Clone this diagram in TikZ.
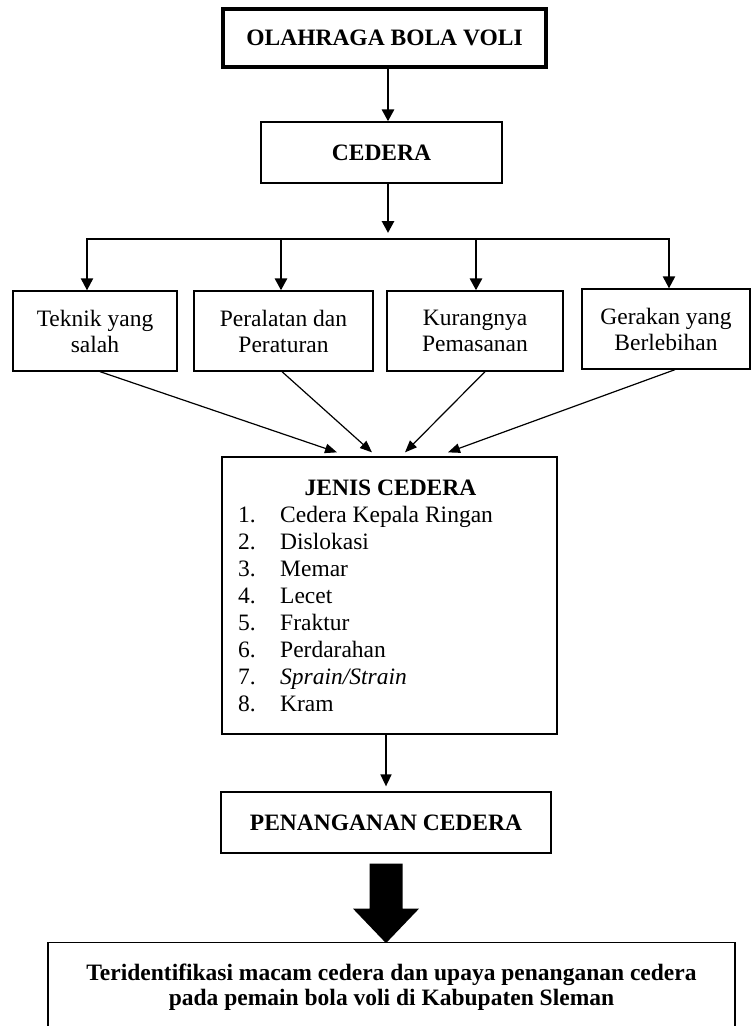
\documentclass[tikz,border=0pt]{standalone}
\usepackage{fontspec}
\setmainfont{Liberation Serif}
\usetikzlibrary{arrows.meta,calc}
\begin{document}
\begin{tikzpicture}[x=1pt,y=-1pt,
  box/.style={draw, line width=1.3pt, inner sep=0pt, align=center, font=\fontsize{23.5}{26}\selectfont},
  thickbox/.style={box, line width=4pt},
  heavyarrow/.style={line width=2.8pt, -{Triangle[length=12pt,width=12pt]}},
  lightarrow/.style={line width=1.2pt, -{Triangle[length=12pt,width=9.5pt]}},
  txt/.style={inner sep=0pt, font=\fontsize{23.5}{27}\selectfont},
]
\useasboundingbox (0,0) rectangle (751,1026);
\clip (0,0) rectangle (751,1026);

% boxes
\node[thickbox, minimum width=323pt, minimum height=58pt] (top) at (384.5,38) {\textbf{OLAHRAGA BOLA VOLI}};
\node[box, minimum width=241pt, minimum height=61pt] (ced) at (381.5,152.5) {\textbf{CEDERA}};
\node[box, minimum width=164pt, minimum height=80pt] (b1) at (95,331) {Teknik yang\\salah};
\node[box, minimum width=179pt, minimum height=80pt] (b2) at (283.5,331) {Peralatan dan\\Peraturan};
\node[box, minimum width=176pt, minimum height=80pt] (b3) at (475,331) {Kurangnya\\Pemasanan};
\node[box, minimum width=168pt, minimum height=80pt] (b4) at (666,329) {Gerakan yang\\Berlebihan};
\node[box, minimum width=335pt, minimum height=277pt] (jenis) at (389.5,595.5) {};
\node[txt, anchor=base] (jtitle) at (390.5,495) {\textbf{JENIS CEDERA}};
\node[txt, anchor=base west] (jlist) at (238,522) {\begin{tabular}[t]{@{}p{42pt}@{}l@{}}
1. & Cedera Kepala Ringan\\
2. & Dislokasi\\
3. & Memar\\
4. & Lecet\\
5. & Fraktur\\
6. & Perdarahan\\
7. & \textit{Sprain/Strain}\\
8. & Kram
\end{tabular}};
\node[box, minimum width=330pt, minimum height=61pt] (pen) at (386,822.5) {\textbf{PENANGANAN CEDERA}};
\node[box, anchor=north, minimum width=687pt, minimum height=130pt] (fin) at (391.5,942) {};
\node[txt, align=center, font={\fontsize{23.5}{24.5}\selectfont\bfseries}] (fintext) at (391.5,987)
  {Teridentifikasi macam cedera dan upaya penanganan cedera\\pada pemain bola voli di Kabupaten Sleman};

% connectors
\coordinate (axis) at (388,0);
\draw[heavyarrow] (top.south -| axis) -- (ced.north -| axis);
\coordinate (split) at (388,239);
\draw[heavyarrow] (ced.south -| axis) -- ($(split)+(0,-6)$);
\coordinate (hl) at (87,239);
\coordinate (d2) at (281,239);
\coordinate (d3) at (476,239);
\coordinate (hr) at (669,239);
\draw[line width=2.2pt, line join=miter, {Triangle[length=12pt,width=12pt]}-{Triangle[length=12pt,width=12pt]}]
  (hl |- b1.north) -- (hl) -- (hr) -- (hr |- b4.north);
\draw[heavyarrow] (d2) -- (d2 |- b2.north);
\draw[heavyarrow] (d3) -- (d3 |- b3.north);

\draw[lightarrow] ($(b1.south)+(5,0)$) -- ($(jenis.north)+(-52.5,-4)$);
\draw[lightarrow] ($(b2.south)+(-1.5,0)$) -- ($(jenis.north)+(-17.5,-4)$);
\draw[lightarrow] ($(b3.south)+(10,0)$) -- ($(jenis.north)+(15.5,-4)$);
\draw[lightarrow] ($(b4.south)+(9,0)$) -- ($(jenis.north)+(58.5,-4)$);

\draw[line width=1.6pt, -{Triangle[length=12pt,width=11pt]}] (pen.north |- jenis.south) -- ($(pen.north)+(0,-5)$);

\fill[shift={(pen.south)}] (-16.5,10) -- (16.5,10) -- (16.5,55) -- (33,55) -- (0,89.5) -- (-33,55) -- (-16.5,55) -- cycle;
\end{tikzpicture}
\end{document}
